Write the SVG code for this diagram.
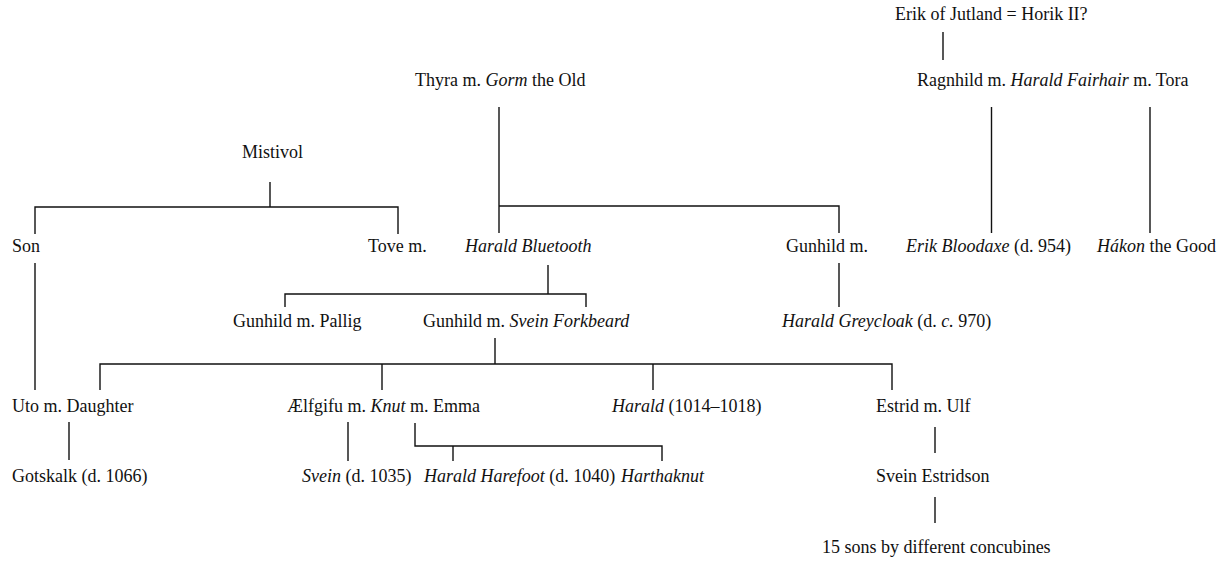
<svg xmlns="http://www.w3.org/2000/svg" width="1220" height="561" viewBox="0 0 1220 561">
<style>
text{font-family:"Liberation Serif","Times New Roman",serif;font-size:18px;fill:#111}
.i{font-style:italic}
#connectors line,#connectors path{stroke:#111;stroke-width:1.4;fill:none}
</style>
<rect width="1220" height="561" fill="#fff"/>
<g id="connectors">
<line x1="943" y1="32" x2="943" y2="60"/>
<line x1="499" y1="107" x2="499" y2="233"/>
<path d="M499 206H839V233"/>
<line x1="991.5" y1="107" x2="991.5" y2="233"/>
<line x1="1150" y1="107" x2="1150" y2="233"/>
<line x1="270" y1="182" x2="270" y2="207"/>
<path d="M35 234V207H398V234"/>
<line x1="35" y1="263" x2="35" y2="390"/>
<line x1="548" y1="265" x2="548" y2="294"/>
<path d="M285 307V294H586V307"/>
<line x1="839" y1="263" x2="839" y2="307"/>
<line x1="495" y1="338" x2="495" y2="364"/>
<path d="M100 390V364H892V390"/>
<line x1="382" y1="364" x2="382" y2="390"/>
<line x1="653" y1="364" x2="653" y2="390"/>
<line x1="69" y1="422" x2="69" y2="460"/>
<line x1="348" y1="422" x2="348" y2="461"/>
<path d="M415 423V446H662V461"/>
<line x1="453" y1="446" x2="453" y2="461"/>
<line x1="935" y1="427" x2="935" y2="453"/>
<line x1="935" y1="497" x2="935" y2="523"/>
</g>
<g id="erik-jutland"><text x="895" y="20">Erik of Jutland = Horik II?</text></g>
<g id="ragnhild"><text x="917" y="86">Ragnhild m. <tspan class="i">Harald Fairhair</tspan> m. Tora</text></g>
<g id="thyra"><text x="415" y="86">Thyra m. <tspan class="i">Gorm</tspan> the Old</text></g>
<g id="mistivol"><text x="242" y="158">Mistivol</text></g>
<g id="son"><text x="12" y="252">Son</text></g>
<g id="tove"><text x="368" y="252">Tove m.</text></g>
<g id="harald-bluetooth"><text x="465" y="252"><tspan class="i">Harald Bluetooth</tspan></text></g>
<g id="gunhild-1"><text x="786" y="252">Gunhild m.</text></g>
<g id="erik-bloodaxe"><text x="906" y="252"><tspan class="i">Erik Bloodaxe</tspan> (d. 954)</text></g>
<g id="hakon"><text x="1097" y="252"><tspan class="i">Hákon</tspan> the Good</text></g>
<g id="gunhild-pallig"><text x="233" y="327">Gunhild m. Pallig</text></g>
<g id="gunhild-svein"><text x="423" y="327">Gunhild m. <tspan class="i">Svein Forkbeard</tspan></text></g>
<g id="harald-greycloak"><text x="782" y="327"><tspan class="i">Harald Greycloak</tspan> (d. <tspan class="i">c.</tspan> 970)</text></g>
<g id="uto"><text x="12" y="412">Uto m. Daughter</text></g>
<g id="aelfgifu"><text x="287" y="412">Ælfgifu m. <tspan class="i">Knut</tspan> m. Emma</text></g>
<g id="harald-1014"><text x="612" y="412"><tspan class="i">Harald</tspan> (1014–1018)</text></g>
<g id="estrid"><text x="876" y="412">Estrid m. Ulf</text></g>
<g id="gotskalk"><text x="12" y="482">Gotskalk (d. 1066)</text></g>
<g id="svein"><text x="302" y="482"><tspan class="i">Svein</tspan> (d. 1035)</text></g>
<g id="harald-harefoot"><text x="424" y="482"><tspan class="i">Harald Harefoot</tspan> (d. 1040)</text></g>
<g id="harthaknut"><text x="621" y="482"><tspan class="i">Harthaknut</tspan></text></g>
<g id="svein-estridson"><text x="876" y="482">Svein Estridson</text></g>
<g id="sons"><text x="822" y="553">15 sons by different concubines</text></g>
</svg>
